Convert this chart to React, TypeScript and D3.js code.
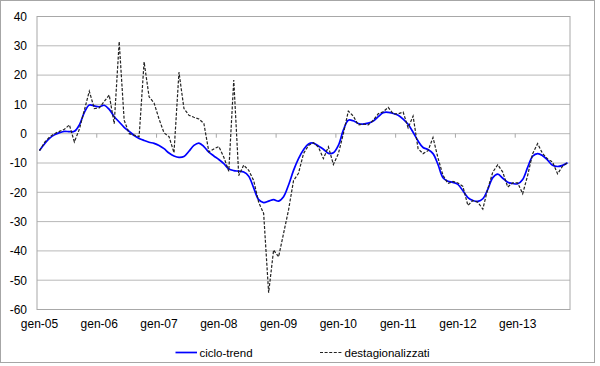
import React from 'react';
import * as d3 from 'd3';

// month labels used on the category axis (only January is shown)
const monthNames = ['gen', 'feb', 'mar', 'apr', 'mag', 'giu', 'lug', 'ago', 'set', 'ott', 'nov', 'dic'];
const years = ['05', '06', '07', '08', '09', '10', '11', '12', '13'];
const categories: string[] = [];
years.forEach((yy) => monthNames.forEach((m) => categories.push(m + '-' + yy)));
categories.splice(107); // series ends in nov-13

const yTicks = [40, 30, 20, 10, 0, -10, -20, -30, -40, -50, -60];

const cicloTrend = [
  -5.7, -3.5, -1.6, -0.4, 0.3, 0.8, 0.7, 0.8, 3.0, 7.2,
  9.8, 9.5, 9.2, 9.7, 8.3, 5.8, 4.0, 2.2, 0.8, -0.6,
  -1.6, -2.3, -2.9, -3.3, -4.0, -5.1, -6.6, -7.6, -8.1, -7.8,
  -6.0, -4.0, -3.2, -4.4, -6.3, -7.6, -8.8, -10.2, -12.0, -12.6,
  -12.8, -13.1, -14.5, -18.5, -22.5, -23.5, -23.0, -22.5, -23.0, -21.5,
  -17.5, -12.5, -8.5, -5.5, -3.5, -3.2, -4.2, -5.3, -6.7, -6.5,
  -4.0, 1.2, 4.6, 4.4, 3.5, 3.3, 3.6, 4.3, 5.8, 7.2,
  7.3, 6.9, 6.3, 5.0, 3.2, 0.5, -2.5, -4.7, -5.4, -6.8,
  -10.5, -15.0, -16.2, -16.6, -17.3, -19.5, -21.8, -22.8, -23.1, -22.2,
  -19.0, -15.0, -13.8, -15.2, -16.6, -17.0, -17.1, -15.6, -11.5, -7.7,
  -6.8, -7.5, -9.0, -10.8, -11.2, -10.8, -9.9,
];

const destagionalizzati = [
  -5.8, -3.0, -1.2, 0.0, 0.8, 1.5, 3.0, -2.8, 1.5, 8.0,
  14.5, 8.6, 8.8, 11.0, 13.2, 3.4, 31.4, 4.6, 0.0, -0.5,
  -1.0, 24.5, 12.6, 10.5, 5.0, 0.3, -1.0, -6.5, 21.0, 8.6,
  6.3, 5.6, 5.0, 3.5, -6.2, -5.2, -4.4, -8.0, -12.8, 18.3,
  -14.3, -10.7, -12.5, -16.0, -23.4, -27.2, -54.3, -39.7, -42.0, -34.0,
  -26.0, -16.0, -13.5, -6.8, -4.0, -3.1, -4.6, -8.5, -4.5, -10.5,
  -6.8, 0.0, 7.7, 6.0, 3.0, 3.3, 3.0, 4.6, 6.8, 7.5,
  9.0, 6.8, 6.8, 7.4, 2.0, 6.0, -5.1, -6.8, -5.8, -1.3,
  -8.3, -14.2, -17.0, -16.3, -16.8, -18.0, -24.5, -22.8, -23.4, -25.7,
  -18.8, -13.1, -10.6, -13.1, -18.2, -16.8, -16.8, -20.5, -14.2, -6.8,
  -3.4, -6.8, -8.6, -9.7, -13.7, -11.1, -9.9,
];

const font = '"Liberation Sans", Arial, sans-serif';

export default function App() {
  const width = 600;
  const height = 366;
  const left = 37;
  const right = 570;
  const top = 16.5;
  const bottom = 309.5;

  const x = d3.scaleBand().domain(categories).range([left, right]).padding(0);
  const y = d3.scaleLinear().domain([-60, 40]).range([bottom, top]);
  const cx = (i: number) => (x(categories[i]) as number) + x.bandwidth() / 2;

  const line = d3
    .line<number>()
    .x((d, i) => cx(i))
    .y((d) => y(d));

  const trendPath = line.curve(d3.curveCatmullRom)(cicloTrend) as string;
  const destPath = line.curve(d3.curveLinear)(destagionalizzati) as string;

  // ticks / labels every 12 months
  const yearIdx = categories.map((c, i) => i).filter((i) => i % 12 === 0);

  return (
    <svg
      width={width}
      height={height}
      style={{ position: 'fixed', left: 0, top: 0, background: '#fff' }}
      fontFamily={font}
    >
      <rect x={0.5} y={0.5} width={594} height={362} fill="#fff" stroke="#a6a6a6" />

      {/* gridlines */}
      {yTicks.map((t) => (
        <line key={t} x1={left} x2={right} y1={y(t)} y2={y(t)} stroke="#b8b8b8" strokeWidth={1} />
      ))}
      <rect x={left} y={top} width={right - left} height={bottom - top} fill="none" stroke="#a8a8a8" />

      {/* category ticks on the zero line */}
      {yearIdx.slice(1).map((i) => (
        <line
          key={i}
          x1={x(categories[i]) as number}
          x2={x(categories[i]) as number}
          y1={y(0)}
          y2={y(0) + 4}
          stroke="#a8a8a8"
        />
      ))}

      {/* y labels */}
      {yTicks.map((t) => (
        <text key={t} x={27} y={y(t)} dy="0.36em" textAnchor="end" fontSize={12} fill="#000">
          {t}
        </text>
      ))}

      {/* x labels */}
      {yearIdx.map((i) => (
        <text key={i} x={cx(i)} y={328} textAnchor="middle" fontSize={12} fill="#000">
          {categories[i]}
        </text>
      ))}

      <path d={trendPath} fill="none" stroke="#0000ff" strokeWidth={1.7} />
      <path d={destPath} fill="none" stroke="#222" strokeWidth={1.2} strokeDasharray="3,1.6" />

      {/* legend */}
      <line x1={175.5} x2={197} y1={352.5} y2={352.5} stroke="#0000ff" strokeWidth={1.7} />
      <text x={199.5} y={356.5} fontSize={11.5} fill="#000">ciclo-trend</text>
      <line x1={320} x2={343} y1={352.5} y2={352.5} stroke="#222" strokeWidth={1.2} strokeDasharray="3,1.6" />
      <text x={344.5} y={356.5} fontSize={11.5} fill="#000">destagionalizzati</text>
    </svg>
  );
}
